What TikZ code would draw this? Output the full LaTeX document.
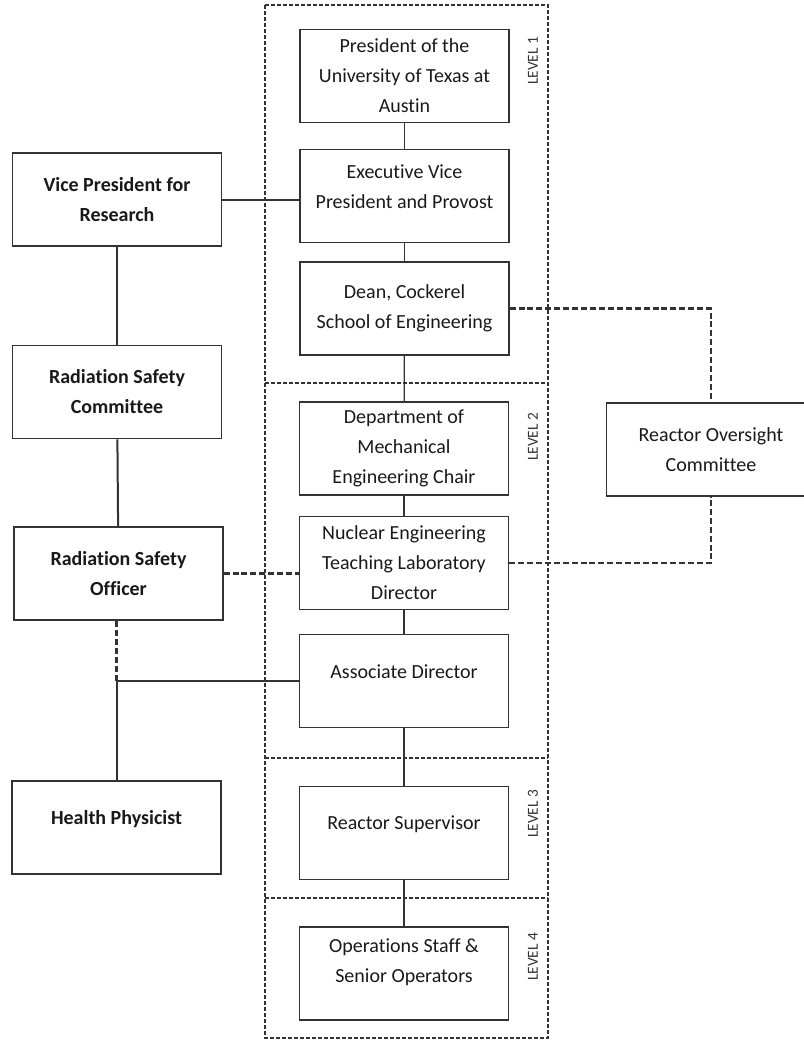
\documentclass[tikz,border=0pt]{standalone}
\usepackage{fontspec}
\setmainfont{Carlito}[Ligatures=NoCommon]
\usepackage{tikz}

\definecolor{ink}{HTML}{333333}

\begin{document}
\begin{tikzpicture}[x=0.75pt,y=0.75pt,yscale=-1,xscale=1,
  orgbox/.style={draw=ink, line width=1.1pt, rectangle, align=center, text=black!90,
    minimum width=156.5pt, minimum height=70pt, inner sep=2pt,
    font=\fontsize{15}{22.5}\selectfont},
  sidebox/.style={orgbox, font=\bfseries\fontsize{15}{22.5}\selectfont},
  lift/.style={text depth=#1},
  levelline/.style={draw=ink, line width=0.8pt, dash pattern=on 3pt off 1.5pt},
  levellabel/.style={rotate=90, text=black!80, font=\fontsize{11.5}{14}\selectfont, inner sep=0.75pt},
  mainline/.style={draw=ink, line width=0.9pt},
  sideline/.style={draw=ink, line width=1.5pt},
  dashline/.style={draw=ink, line width=1.6pt, dash pattern=on 4.5pt off 2.2pt}]
\useasboundingbox (0,0) rectangle (804,1040);

%Shape: Rectangle [levels]
\draw [levelline] (265,5) rectangle (548,1038) ;
\draw [levelline] (265,383) -- (548,383) ;
\draw [levelline] (265,758) -- (548,758) ;
\draw [levelline] (265,898) -- (548,898) ;

% Text Node
\node [levellabel] (lvA) at (533,61) {LEVEL 1};
% Text Node
\node [levellabel] (lvB) at (533,437) {LEVEL 2};
% Text Node
\node [levellabel] (lvC) at (533,814) {LEVEL 3};
% Text Node
\node [levellabel] (lvD) at (533,957) {LEVEL 4};

%Shape: Rectangle [centre column]
\node [orgbox] (pres) at (404.5,76) {President of the\\University of Texas at\\Austin};
\node [orgbox, lift=13.5pt] (evp) at (404.5,196) {Executive Vice\\President and Provost};
\node [orgbox] (dean) at (404.5,308.5) {Dean, Cockerel\\School of Engineering};
\node [orgbox] (dept) at (404,448.5) {Department of\\Mechanical\\Engineering Chair};
\node [orgbox] (netl) at (404,563) {Nuclear Engineering\\Teaching Laboratory\\Director};
\node [orgbox, lift=13.5pt] (assoc) at (404,681) {Associate Director};
\node [orgbox, lift=16pt] (rsup) at (404,833) {Reactor Supervisor};
\node [orgbox, lift=20pt] (ops) at (404,973.5) {Operations Staff \&\\Senior Operators};

%Shape: Rectangle [left column]
\node [sidebox] (vpr) at (117,199.5) {Vice President for\\Research};
\node [sidebox] (rsc) at (117,392) {Radiation Safety\\Committee};
\node [sidebox] (rso) at (118.5,573.5) {Radiation Safety\\Officer};
\node [sidebox, lift=15pt] (hp) at (116.5,827.5) {Health Physicist};

%Shape: Rectangle [right]
\node [orgbox] (roc) at (711,449.5) {Reactor Oversight\\Committee};

%Straight Lines [centre column]
\draw [mainline] (pres) -- (evp) ;
\draw [mainline] (evp) -- (dean) ;
\draw [mainline] (dean) -- (dept) ;
\draw [mainline] (dept) -- (netl) ;
\draw [mainline] (netl) -- (assoc) ;
\draw [mainline] (assoc) -- (rsup) ;
\draw [mainline] (rsup) -- (ops) ;

%Straight Lines [left column]
\coordinate (jn) at (hp.north |- assoc.west) ;
\draw [sideline] (vpr.east) -- (vpr.east -| evp.west) ;
\draw [sideline] (vpr) -- (rsc) ;
\draw [sideline] (rsc) -- (rso) ;
\draw [sideline] (assoc.west) -- (jn) -- (hp.north) ;
\draw [dashline] (rso.south -| jn) -- (jn) ;
\draw [dashline] (rso.east) -- (rso.east -| netl.west) ;

%Straight Lines [oversight]
\draw [dashline] (dean.east) -| (roc.north) ;
\draw [dashline] (netl.east) -| (roc.south) ;

\end{tikzpicture}
\end{document}
